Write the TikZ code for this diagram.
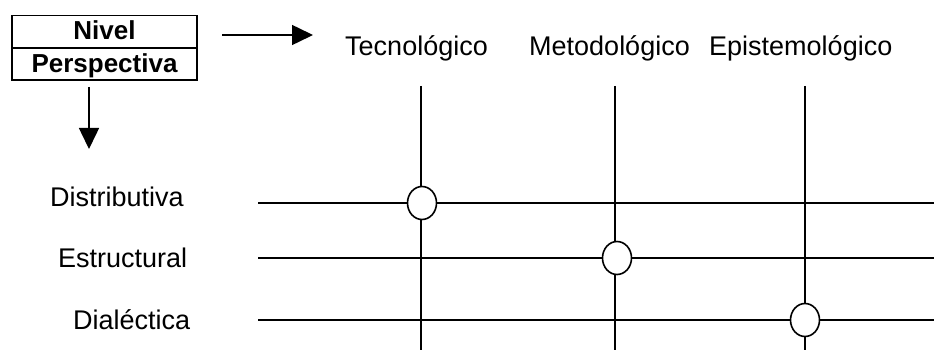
\documentclass[tikz,border=0pt]{standalone}
\usepackage{fontspec}
\setmainfont{Liberation Sans}
\usetikzlibrary{shapes.geometric,arrows.meta}
\tikzset{
  ln/.style={line width=1.5pt},
  lbl/.style={anchor=base west,inner sep=0pt,font=\fontsize{27}{30}\selectfont},
  hdr/.style={anchor=base west,inner sep=0pt,font=\fontsize{27}{30}\selectfont},
  bx/.style={draw,line width=1.6pt,inner sep=0pt,minimum width=185pt,minimum height=32pt},
  bt/.style={anchor=base,inner sep=0pt,font=\bfseries\fontsize{26}{30}\selectfont},
  knot/.style={ellipse,draw,fill=white,line width=1.6pt,minimum width=29pt,minimum height=33pt,inner sep=0pt},
  arr/.style={ln,-{Triangle[length=21pt,width=20pt]}}
}
\begin{document}
\begin{tikzpicture}[x=1pt,y=-1pt]
\useasboundingbox (0,0) rectangle (934,350);
% box
\node[bx] (nivel) at (104.5,31.5) {};
\node[bx] (persp) at (104.5,64) {};
\node[bt] (tn) at (104.5,40) {Nivel};
\node[bt] (tp) at (104.5,73) {Perspectiva};
% arrows
\coordinate (ra1) at (222,35);
\coordinate (ra2) at (313,35);
\draw[arr] (ra1) -- (ra2);
\coordinate (da1) at (89,87);
\coordinate (da2) at (89,149);
\draw[arr] (da1) -- (da2);
% headers
\node[hdr] (tec) at (345,56) {Tecnológico};
\node[hdr] (met) at (529,56) {Metodológico};
\node[hdr] (epi) at (709,56) {Epistemológico};
% row labels
\node[lbl] (dis) at (50,206) {Distributiva};
\node[lbl] (est) at (58,267) {Estructural};
\node[lbl] (dia) at (73,329) {Dialéctica};
% columns
\coordinate (c1t) at (421,86); \coordinate (c1b) at (421,350);
\coordinate (c2t) at (615,86); \coordinate (c2b) at (615,350);
\coordinate (c3t) at (805,86); \coordinate (c3b) at (805,350);
\draw[ln] (c1t) -- (c1b);
\draw[ln] (c2t) -- (c2b);
\draw[ln] (c3t) -- (c3b);
% rows
\coordinate (r1l) at (258,203); \coordinate (r1r) at (934,203);
\coordinate (r2l) at (258,258); \coordinate (r2r) at (934,258);
\coordinate (r3l) at (258,320); \coordinate (r3r) at (934,320);
\draw[ln] (r1l) -- (r1r);
\draw[ln] (r2l) -- (r2r);
\draw[ln] (r3l) -- (r3r);
% knots
\node[knot] (k1) at (422,203) {};
\node[knot] (k2) at (617,258) {};
\node[knot] (k3) at (805,320) {};
\end{tikzpicture}
\end{document}
